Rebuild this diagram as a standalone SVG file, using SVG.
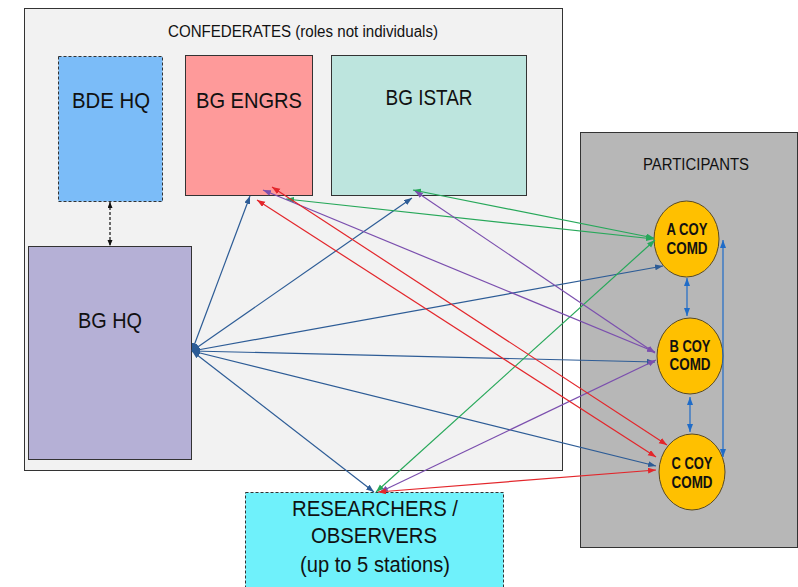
<svg xmlns="http://www.w3.org/2000/svg" width="798" height="587" viewBox="0 0 798 587">
<style>
text{font-family:"Liberation Sans",Arial,sans-serif;fill:#111}
.box{stroke:#333;stroke-width:1}
.dash{stroke-dasharray:3 2}
.lbl{font-size:22px;text-anchor:middle}
.coy{font-size:16px;font-weight:bold;text-anchor:middle}
.circ{fill:#ffc000;stroke:#5a4a20;stroke-width:1}
.c line{fill:none;stroke-width:1.2}
.bl{stroke:#2d5c96;marker-start:url(#mb);marker-end:url(#mb)}
.rd{stroke:#e3262b;marker-start:url(#mr);marker-end:url(#mr)}
.pu{stroke:#7b4fae;marker-start:url(#mp);marker-end:url(#mp)}
.gr{stroke:#27a85a;marker-start:url(#mg);marker-end:url(#mg)}
.cb{stroke:#1f6cc8;marker-start:url(#mc);marker-end:url(#mc)}
.bk{stroke:#111;stroke-dasharray:3 2;marker-start:url(#mk);marker-end:url(#mk)}
</style>
<defs>
<marker id="mb" markerUnits="userSpaceOnUse" markerWidth="9" markerHeight="7" refX="8" refY="3" orient="auto-start-reverse"><path d="M0,0 L8,3 L0,6 z" fill="#2d5c96"/></marker>
<marker id="mr" markerUnits="userSpaceOnUse" markerWidth="9" markerHeight="7" refX="8" refY="3" orient="auto-start-reverse"><path d="M0,0 L8,3 L0,6 z" fill="#e3262b"/></marker>
<marker id="mp" markerUnits="userSpaceOnUse" markerWidth="9" markerHeight="7" refX="8" refY="3" orient="auto-start-reverse"><path d="M0,0 L8,3 L0,6 z" fill="#7b4fae"/></marker>
<marker id="mg" markerUnits="userSpaceOnUse" markerWidth="9" markerHeight="7" refX="8" refY="3" orient="auto-start-reverse"><path d="M0,0 L8,3 L0,6 z" fill="#27a85a"/></marker>
<marker id="mc" markerUnits="userSpaceOnUse" markerWidth="9" markerHeight="7" refX="8" refY="3" orient="auto-start-reverse"><path d="M0,0 L8,3 L0,6 z" fill="#1f6cc8"/></marker>
<marker id="mk" markerUnits="userSpaceOnUse" markerWidth="9" markerHeight="7" refX="6" refY="2.5" orient="auto-start-reverse"><path d="M0,0 L6,2.5 L0,5 z" fill="#111"/></marker>
</defs>
<rect width="798" height="587" fill="#fff"/>
<g id="confederates">
<rect class="box" x="24.5" y="8.5" width="538" height="462" fill="#f2f2f2"/>
<text x="303" y="37" font-size="16" text-anchor="middle" textLength="270" lengthAdjust="spacingAndGlyphs">CONFEDERATES (roles not individuals)</text>
</g>
<g id="participants">
<rect class="box" x="580.5" y="132.5" width="217" height="415" fill="#b7b7b7"/>
<text x="696" y="170" font-size="16" text-anchor="middle" textLength="106" lengthAdjust="spacingAndGlyphs">PARTICIPANTS</text>
</g>
<g id="bde-hq">
<rect class="box dash" x="58.5" y="56.5" width="104" height="145" fill="#7bbcf8"/>
<text class="lbl" x="111" y="108" textLength="78" lengthAdjust="spacingAndGlyphs">BDE HQ</text>
</g>
<g id="bg-engrs">
<rect class="box" x="185.5" y="55.5" width="127" height="140" fill="#fe9a9a"/>
<text class="lbl" x="249" y="108" textLength="106" lengthAdjust="spacingAndGlyphs">BG ENGRS</text>
</g>
<g id="bg-istar">
<rect class="box" x="331.5" y="55.5" width="195" height="140" fill="#bde5de"/>
<text class="lbl" x="429" y="105" textLength="87" lengthAdjust="spacingAndGlyphs">BG ISTAR</text>
</g>
<g id="bg-hq">
<rect class="box" x="28.5" y="246.5" width="163" height="213" fill="#b5b0d6"/>
<text class="lbl" x="110" y="328" textLength="64" lengthAdjust="spacingAndGlyphs">BG HQ</text>
</g>
<g id="researchers">
<rect class="box dash" x="245.5" y="492.5" width="258" height="100" fill="#6ff1fb"/>
<text class="lbl" x="375" y="516" textLength="166" lengthAdjust="spacingAndGlyphs">RESEARCHERS /</text>
<text class="lbl" x="374" y="543" textLength="126" lengthAdjust="spacingAndGlyphs">OBSERVERS</text>
<text class="lbl" x="375" y="572" textLength="150" lengthAdjust="spacingAndGlyphs">(up to 5 stations)</text>
</g>
<g id="a-coy">
<ellipse class="circ" cx="686.5" cy="239" rx="32.5" ry="38"/>
<text class="coy" x="687" y="235" textLength="41" lengthAdjust="spacingAndGlyphs">A COY</text>
<text class="coy" x="687" y="254" textLength="41" lengthAdjust="spacingAndGlyphs">COMD</text>
</g>
<g id="b-coy">
<ellipse class="circ" cx="690" cy="356" rx="33" ry="38"/>
<text class="coy" x="690" y="352" textLength="41" lengthAdjust="spacingAndGlyphs">B COY</text>
<text class="coy" x="690" y="370" textLength="41" lengthAdjust="spacingAndGlyphs">COMD</text>
</g>
<g id="c-coy">
<ellipse class="circ" cx="692" cy="472" rx="33" ry="38"/>
<text class="coy" x="692" y="469" textLength="41" lengthAdjust="spacingAndGlyphs">C COY</text>
<text class="coy" x="692" y="488" textLength="41" lengthAdjust="spacingAndGlyphs">COMD</text>
</g>
<g id="connectors" class="c">
<line class="bk" x1="110" y1="202" x2="110" y2="246"/>
<line class="bl" x1="192" y1="351" x2="250" y2="196"/>
<line class="bl" x1="192" y1="351" x2="412" y2="198"/>
<line class="bl" x1="192" y1="351" x2="663" y2="266"/>
<line class="bl" x1="192" y1="351" x2="655" y2="362"/>
<line class="bl" x1="192" y1="351" x2="656" y2="466"/>
<line class="bl" x1="192" y1="351" x2="374" y2="492"/>
<line class="gr" x1="286" y1="199" x2="654" y2="239"/>
<line class="gr" x1="413" y1="190" x2="654" y2="238"/>
<line class="gr" x1="376" y1="492" x2="655" y2="240"/>
<line class="pu" x1="263" y1="190" x2="655" y2="352"/>
<line class="pu" x1="415" y1="191" x2="655" y2="353"/>
<line class="pu" x1="380" y1="492" x2="656" y2="360"/>
<line class="rd" x1="272" y1="187" x2="667" y2="445"/>
<line class="rd" x1="257" y1="200" x2="656" y2="457"/>
<line class="rd" x1="378" y1="492" x2="656" y2="470"/>
<line class="cb" x1="687" y1="278" x2="687" y2="316"/>
<line class="cb" x1="690" y1="397" x2="690" y2="432"/>
<line class="cb" x1="723" y1="240" x2="723" y2="457"/>
</g>
</svg>
